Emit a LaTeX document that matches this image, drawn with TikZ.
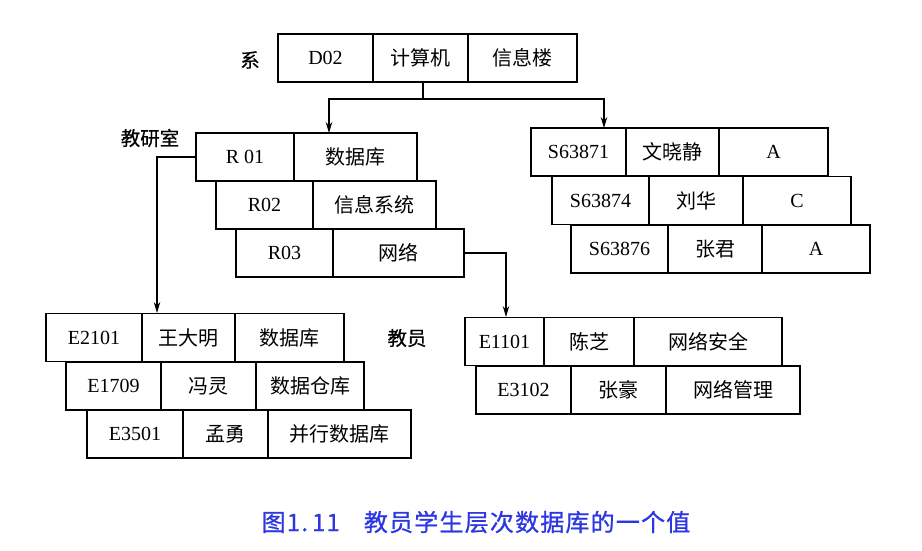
\documentclass[tikz,border=0pt]{standalone}
\usepackage{fontspec}
\setmainfont{Liberation Serif}
\newfontfamily\cjk{Noto Sans CJK SC}
\newfontfamily\cjklab[FakeBold=0.5]{Noto Sans CJK SC}
\newfontfamily\cjkcap[LetterSpace=5,FakeBold=0.8]{Noto Sans CJK SC}
\usetikzlibrary{arrows.meta}
\definecolor{capblue}{RGB}{45,55,225}
\newcommand\zhtext[1]{{\cjk #1}}
\begin{document}
\begin{tikzpicture}[x=1pt,y=-1pt,
  cell/.style={draw,line width=1.1pt,minimum height=48pt,inner sep=0pt,font=\fontsize{20}{20}\selectfont},
  lab/.style={font=\cjklab\fontsize{19.5}{19.5}\selectfont,inner sep=0pt},
  conn/.style={line width=1.1pt},
  arr/.style={line width=1.1pt,-{Stealth[length=11pt,width=6.5pt]}}]
\useasboundingbox (0,0) rectangle (922,550);
% top record
\node[cell,minimum width=95pt] (d1) at (325.5,58) {D02};
\node[cell,minimum width=95pt] (d2) at (420.5,58) {\zhtext{计算机}};
\node[cell,minimum width=109pt] (d3) at (522.5,58) {\zhtext{信息楼}};
\node[lab] (lxi) at (250,60) {系};
% R records
\node[cell,minimum width=98pt] (r11) at (245,157) {R 01};
\node[cell,minimum width=123pt] (r12) at (355.5,157) {\zhtext{数据库}};
\node[cell,minimum width=97pt] (r21) at (264.5,205) {R02};
\node[cell,minimum width=123pt] (r22) at (374.5,205) {\zhtext{信息系统}};
\node[cell,minimum width=97pt] (r31) at (284.5,253) {R03};
\node[cell,minimum width=131pt] (r32) at (398.5,253) {\zhtext{网络}};
\node[lab] (ljys) at (150,138) {教研室};
% S records
\node[cell,minimum width=95pt] (s11) at (578.5,152) {S63871};
\node[cell,minimum width=93pt] (s12) at (672.5,152) {\zhtext{文晓静}};
\node[cell,minimum width=109pt] (s13) at (773.5,152) {A};
\node[cell,minimum width=97pt] (s21) at (600.5,200.5) {S63874};
\node[cell,minimum width=94pt] (s22) at (696,200.5) {\zhtext{刘华}};
\node[cell,minimum width=108pt] (s23) at (797,200.5) {C};
\node[cell,minimum width=97pt] (s31) at (619.5,249) {S63876};
\node[cell,minimum width=94pt] (s32) at (715,249) {\zhtext{张君}};
\node[cell,minimum width=108pt] (s33) at (816,249) {A};
% left E records
\node[cell,minimum width=96pt] (e11) at (94,337.5) {E2101};
\node[cell,minimum width=93pt] (e12) at (188.5,337.5) {\zhtext{王大明}};
\node[cell,minimum width=109pt] (e13) at (289.5,337.5) {\zhtext{数据库}};
\node[cell,minimum width=95pt] (e21) at (113.5,386) {E1709};
\node[cell,minimum width=95pt] (e22) at (208.5,386) {\zhtext{冯灵}};
\node[cell,minimum width=108pt] (e23) at (310,386) {\zhtext{数据仓库}};
\node[cell,minimum width=96pt] (e31) at (135,434) {E3501};
\node[cell,minimum width=85pt] (e32) at (225.5,434) {\zhtext{孟勇}};
\node[cell,minimum width=143pt] (e33) at (339.5,434) {\zhtext{并行数据库}};
\node[lab] (ljy) at (407,338) {教员};
% right E records
\node[cell,minimum width=79pt] (f11) at (504.5,341.5) {E1101};
\node[cell,minimum width=90pt] (f12) at (589,341.5) {\zhtext{陈芝}};
\node[cell,minimum width=148pt] (f13) at (708,341.5) {\zhtext{网络安全}};
\node[cell,minimum width=95pt] (f21) at (523.5,390) {E3102};
\node[cell,minimum width=95pt] (f22) at (618.5,390) {\zhtext{张豪}};
\node[cell,minimum width=134pt] (f23) at (733,390) {\zhtext{网络管理}};
% connectors
\coordinate (j) at (423,99);
\coordinate (aR) at (329,133);
\coordinate (aS) at (604,128);
\coordinate (aE1) at (157,313);
\coordinate (aE2) at (506,317);
\draw[conn] (d2.south -| j) -- (j);
\draw[arr] (j) -| (aR);
\draw[arr] (j) -| (aS);
\draw[arr] (r11.west) -| (aE1);
\draw[arr] (r32.east) -| (aE2);
% caption
\node[font=\cjkcap\fontsize{24}{24}\selectfont,text=capblue,inner sep=0pt] (cap) at (476,522) {图1.\,11\hspace{24pt}教员学生层次数据库的一个值};
\end{tikzpicture}
\end{document}
